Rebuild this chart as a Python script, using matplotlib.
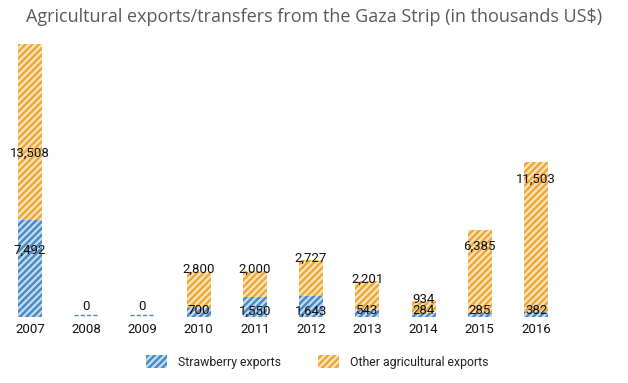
import numpy as np
import matplotlib
matplotlib.use('Agg')
import matplotlib.pyplot as plt
from matplotlib.patches import Patch

# Data (thousands US$)
years = ['2007', '2008', '2009', '2010', '2011', '2012', '2013', '2014', '2015', '2016']
strawberry = [7492, 0, 0, 700, 1550, 1643, 543, 284, 285, 382]
other = [13508, 0, 0, 2800, 2000, 2727, 2201, 934, 6385, 11503]

blue = '#4a8ac4'
orange = '#eea83a'
lab_font = dict(family='Roboto', size=9.5, color='#111111')

plt.rcParams['hatch.linewidth'] = 1.6

fig = plt.figure(figsize=(6.28, 3.83), dpi=100)

# axes geometry: first bar centred at x=30px, last at x=536px, baseline y=317px, 21000 at y=44px
step = (536 - 30) / 9
left_px = 30 - 0.5 * step
right_px = 536 + 0.5 * step
ax = fig.add_axes([left_px / 628, 1 - 317 / 383, (right_px - left_px) / 628, (317 - 44) / 383])
ax.set_xlim(-0.5, 9.5)
ax.set_ylim(0, 21000)

x = np.arange(len(years))
s = np.array(strawberry)
o = np.array(other)
w = 24 / step

nonzero = s + o > 0
ax.bar(x[nonzero], s[nonzero], width=w, color=blue, edgecolor='#c6ddf0',
       hatch='/////', linewidth=0)
ax.bar(x[nonzero], o[nonzero], bottom=s[nonzero], width=w, color=orange,
       edgecolor='#fbe5bc', hatch='/////', linewidth=0)

ypx = 21000 / 273  # data units per pixel
# zero-value years drawn as a dashed stub at the baseline
for xi in x[~nonzero]:
    ax.plot([xi - w / 2, xi + w / 2], [2 * ypx, 2 * ypx], color=blue, lw=1, ls=(0, (3, 1.5)))

for xi, sv, ov in zip(x, s, o):
    total = sv + ov
    if total == 0:
        ax.text(xi, 11 * ypx, '0', ha='center', va='center', **lab_font)
        continue
    # other exports label
    if ov > 5000:
        ax.annotate(f'{ov:,}', (xi, ov), xytext=(0, -4), textcoords='offset points',
                    ha='center', va='top', **lab_font)
    else:
        ax.text(xi, total + 2 * ypx, f'{ov:,}', ha='center', va='center', **lab_font)
    # strawberry label
    if sv > 5000:
        ax.text(xi, sv * 0.69, f'{sv:,}', ha='center', va='center', **lab_font)
    else:
        ax.text(xi, 6 * ypx, f'{sv:,}', ha='center', va='center', **lab_font)

ax.set_xticks(x)
ax.set_xticklabels(years, **lab_font)
ax.tick_params(axis='x', length=0, pad=4)
ax.set_yticks([])
for sp in ax.spines.values():
    sp.set_visible(False)

fig.text(0.5, 1 - 17 / 383, 'Agricultural exports/transfers from the Gaza Strip (in thousands US$)',
         ha='center', va='center', fontsize=13, color='#5a5a5a', family='Open Sans')

handles = [Patch(facecolor=blue, edgecolor='#c6ddf0', hatch='/////', lw=0, label='Strawberry exports'),
           Patch(facecolor=orange, edgecolor='#fbe5bc', hatch='/////', lw=0, label='Other agricultural exports')]
fig.legend(handles=handles, loc='center', bbox_to_anchor=(0.505, 1 - 362 / 383), ncol=2, frameon=False,
           prop={'family': 'Roboto', 'size': 8.8}, labelcolor='#222222', handlelength=1.75,
           handleheight=1.3, columnspacing=3.0, handletextpad=0.9)

fig.savefig('out.png', dpi=100)
